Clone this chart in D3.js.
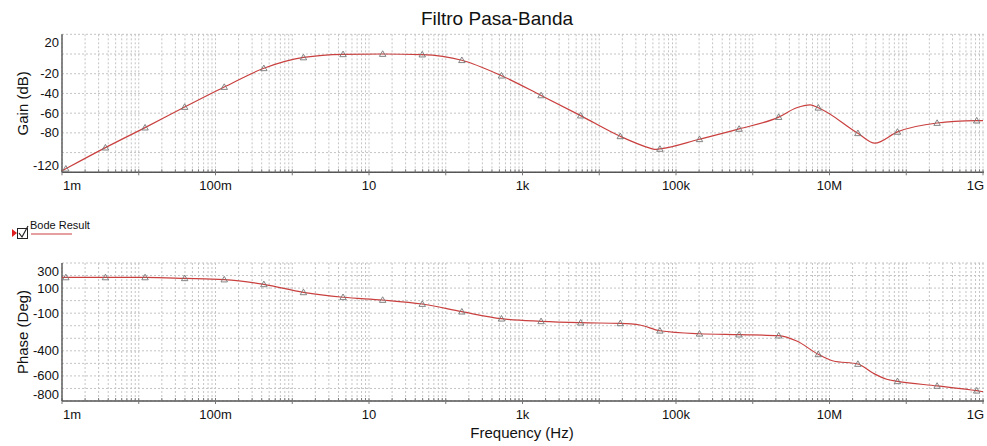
<!DOCTYPE html>
<html>
<head>
<meta charset="utf-8">
<script src="https://cdn.jsdelivr.net/npm/d3@7"></script>
<style>
  body { margin: 0; background: #fff; }
  text { font-family: "Liberation Sans", Arial, sans-serif; }
</style>
</head>
<body>
<div id="the_chart"></div>
<script>

// frequencies where the simulator put a triangle marker
var markerHz = [1.122e-3, 3.68e-3, 0.01208, 0.03963, 0.13, 0.4266, 1.40, 4.59, 15.07, 49.4,
  162.2, 532, 1746, 5728, 18793, 61660, 202300, 663700, 2.178e6, 7.145e6,
  2.344e7, 7.691e7, 2.523e8, 8.279e8];

var gainHz = [1e-3, 1.122e-3, 3.68e-3, 0.01208, 0.03963, 0.13, 0.4266, 1.40, 4.59, 15.07, 49.4,
  162.2, 532, 1746, 5728, 18793, 45700, 52500, 61660, 202300, 663700, 2.178e6, 3.74e6, 5.6e6,
  7.145e6, 2.344e7, 3.9e7, 7.691e7, 2.523e8, 8.279e8, 1e9];
var gainDb = [-118.5, -116.4, -95, -74.7, -53.8, -33.5, -14.5, -3.5, -0.3, 0, -0.6,
  -6.3, -22, -42, -62.5, -83.5, -95.5, -96.8, -96.3, -86.5, -76, -64, -54.5, -51.6,
  -54.5, -80.4, -90.5, -79, -70, -67.6, -67.5];

var phaseHz = [1e-3, 1.122e-3, 3.68e-3, 0.01208, 0.03963, 0.13, 0.4266, 1.40, 4.59, 15.07, 49.4,
  162.2, 532, 1746, 5728, 18793, 33900, 61660, 202300, 663700, 2.178e6, 3.74e6, 7.145e6,
  1.12e7, 2.344e7, 3.72e7, 5.56e7, 7.691e7, 2.523e8, 8.279e8, 1e9];
var phaseDeg = [185, 185, 185, 185, 178, 168, 130, 66, 27, 5, -27,
  -88, -144, -165, -176, -181, -194, -240, -264, -271, -279, -322, -428,
  -481, -505, -579, -627, -643, -680, -718, -726];

var freqTicks = [1e-3, 1e-1, 1e1, 1e3, 1e5, 1e7, 1e9];
var freqLabels = ["1m", "100m", "10", "1k", "100k", "10M", "1G"];
var gainTicks = [20, -20, -40, -60, -80, -120];
var phaseTicks = [300, 100, -100, -400, -600, -800];

var w = 987;
var h = 446;
var red = "#c9403f";

var svg = d3.select("#the_chart")
  .append("svg")
  .attr("width", w)
  .attr("height", h);

var xscale = d3.scaleLog()
  .domain([1e-3, 1e9])
  .range([62, 983]);

// every 1..9 position inside each decade
var minorHz = [];
for (var d = -3; d < 9; d++) {
  for (var k = 1; k < 10; k++) minorHz.push(k * Math.pow(10, d));
}
minorHz.push(1e9);

svg.append("text")
  .attr("x", 497)
  .attr("y", 25)
  .attr("text-anchor", "middle")
  .attr("font-size", 19)
  .attr("fill", "#111")
  .text("Filtro Pasa-Banda");

function gen_panel(opts) {
  var yscale = d3.scaleLinear()
    .domain(opts.domain)
    .range([opts.bottom, opts.top]);

  var g = svg.append("g");

  // grid
  g.selectAll("line.vgrid")
    .data(minorHz)
    .enter().append("line")
    .attr("class", "vgrid")
    .attr("x1", function (f) { return xscale(f); })
    .attr("x2", function (f) { return xscale(f); })
    .attr("y1", opts.top)
    .attr("y2", opts.bottom)
    .attr("stroke", "#c4c4c4")
    .attr("stroke-width", 1)
    .attr("stroke-dasharray", "2,2");

  g.selectAll("line.hgrid")
    .data(d3.range(opts.domain[0], opts.domain[1] + 1, opts.step))
    .enter().append("line")
    .attr("class", "hgrid")
    .attr("x1", 62)
    .attr("x2", 984)
    .attr("y1", function (v) { return yscale(v); })
    .attr("y2", function (v) { return yscale(v); })
    .attr("stroke", "#c4c4c4")
    .attr("stroke-width", 1)
    .attr("stroke-dasharray", "2,2");

  // bottom axis with small ticks pointing up
  g.append("line")
    .attr("x1", 62).attr("x2", 984)
    .attr("y1", opts.bottom).attr("y2", opts.bottom)
    .attr("stroke", "#555").attr("stroke-width", 1.4);

  g.selectAll("line.mtick")
    .data(minorHz)
    .enter().append("line")
    .attr("class", "mtick")
    .attr("x1", function (f) { return xscale(f); })
    .attr("x2", function (f) { return xscale(f); })
    .attr("y1", opts.bottom - 3)
    .attr("y2", function (f) {
      return Math.abs(Math.log10(f) % 1) < 1e-9 ? opts.bottom + 3 : opts.bottom;
    })
    .attr("stroke", "#777");

  g.append("line")
    .attr("x1", 62).attr("x2", 62)
    .attr("y1", opts.top).attr("y2", opts.bottom)
    .attr("stroke", "#555").attr("stroke-width", 1.4);

  var last = freqTicks.length - 1;
  g.selectAll("text.xlab")
    .data(freqTicks)
    .enter().append("text")
    .attr("class", "xlab")
    .attr("x", function (f, i) { return xscale(f) + (i == 0 ? 1 : i == last ? 1 : 0); })
    .attr("y", opts.bottom + 18)
    .attr("text-anchor", function (f, i) { return i == 0 ? "start" : i == last ? "end" : "middle"; })
    .attr("font-size", 13)
    .attr("fill", "#111")
    .text(function (f, i) { return freqLabels[i]; });

  // y labels, the end ones pushed inside like the original
  g.selectAll("text.ylab")
    .data(opts.ticks)
    .enter().append("text")
    .attr("class", "ylab")
    .attr("x", 59)
    .attr("y", function (v) {
      var y = yscale(v);
      if (y - opts.top < 4) y = opts.top + 8;
      if (opts.bottom - y < 4) y = opts.bottom - 7;
      return y;
    })
    .attr("dy", "0.35em")
    .attr("text-anchor", "end")
    .attr("font-size", 13)
    .attr("fill", "#111")
    .text(function (v) { return v; });

  g.append("text")
    .attr("transform", "translate(28," + ((opts.top + opts.bottom) / 2) + ") rotate(-90)")
    .attr("text-anchor", "middle")
    .attr("font-size", 15)
    .attr("fill", "#111")
    .text(opts.title);

  var pts = opts.hz.map(function (f, i) { return [f, opts.vals[i]]; });

  var line = d3.line()
    .x(function (p) { return xscale(p[0]); })
    .y(function (p) { return yscale(p[1]); })
    .curve(d3.curveMonotoneX);

  g.append("path")
    .datum(pts)
    .attr("d", line)
    .attr("fill", "none")
    .attr("stroke", red)
    .attr("stroke-width", 1.2);

  g.selectAll("path.mark")
    .data(pts.filter(function (p) { return markerHz.indexOf(p[0]) >= 0; }))
    .enter().append("path")
    .attr("class", "mark")
    .attr("d", d3.symbol().type(d3.symbolTriangle).size(18))
    .attr("transform", function (p) {
      return "translate(" + xscale(p[0]) + "," + (yscale(p[1]) + 0.5) + ")";
    })
    .attr("fill", "none")
    .attr("stroke", "#777")
    .attr("stroke-width", 0.9);
}

gen_panel({
  top: 34.3, bottom: 172.3, domain: [-120, 20], step: 20,
  ticks: gainTicks, hz: gainHz, vals: gainDb, title: "Gain (dB)"
});

gen_panel({
  top: 263, bottom: 401, domain: [-800, 300], step: 100,
  ticks: phaseTicks, hz: phaseHz, vals: phaseDeg, title: "Phase (Deg)"
});

svg.append("text")
  .attr("x", 522)
  .attr("y", 438)
  .attr("text-anchor", "middle")
  .attr("font-size", 15)
  .attr("fill", "#111")
  .text("Frequency (Hz)");

// legend
var lg = svg.append("g");
lg.append("path")
  .attr("d", "M12,229 L17,233 L12,237 Z")
  .attr("fill", "#e02020");
lg.append("rect")
  .attr("x", 17.5).attr("y", 228.5)
  .attr("width", 10).attr("height", 10)
  .attr("fill", "#fff")
  .attr("stroke", "#222");
lg.append("path")
  .attr("d", "M19,233 L22,237 L28,226")
  .attr("fill", "none")
  .attr("stroke", "#222")
  .attr("stroke-width", 1.2);
lg.append("text")
  .attr("x", 30)
  .attr("y", 229)
  .attr("font-size", 11)
  .attr("fill", "#111")
  .text("Bode Result");
lg.append("line")
  .attr("x1", 31).attr("x2", 72)
  .attr("y1", 234).attr("y2", 234)
  .attr("stroke", red)
  .attr("stroke-width", 1);

</script>
</body>
</html>
